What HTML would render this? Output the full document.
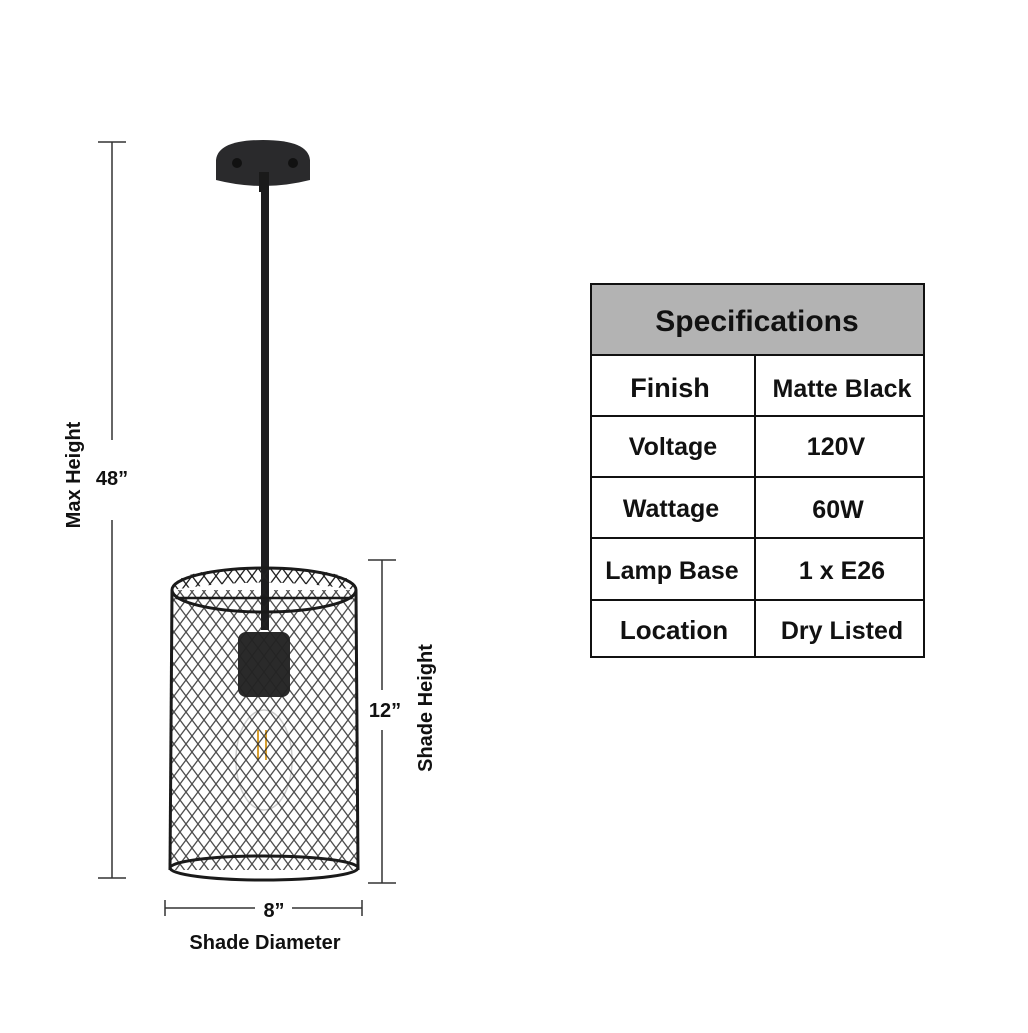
<!DOCTYPE html>
<html><head><style>
body{margin:0;background:#fff;width:1028px;height:1028px;overflow:hidden;font-family:"Liberation Sans",sans-serif}
</style></head><body>
<svg width="1028" height="1028" viewBox="0 0 1028 1028" xmlns="http://www.w3.org/2000/svg">
<defs>
<pattern id="mesh" width="12" height="16" patternUnits="userSpaceOnUse">
<path d="M0 0L12 16M12 0L0 16" stroke="#222" stroke-width="1.3"/>
</pattern>
<clipPath id="cage"><path d="M172 590 L356 590 L358 870 L170 870 Z"/></clipPath>
</defs>
<g stroke="#333" stroke-width="1.5" fill="none">
<line x1="112" y1="142" x2="112" y2="440"/><line x1="112" y1="520" x2="112" y2="878"/>
<line x1="98" y1="142" x2="126" y2="142"/><line x1="98" y1="878" x2="126" y2="878"/>
<line x1="382" y1="560" x2="382" y2="690"/><line x1="382" y1="730" x2="382" y2="883"/>
<line x1="368" y1="560" x2="396" y2="560"/><line x1="368" y1="883" x2="396" y2="883"/>
<line x1="165" y1="908" x2="255" y2="908"/><line x1="292" y1="908" x2="362" y2="908"/>
<line x1="165" y1="900" x2="165" y2="916"/><line x1="362" y1="900" x2="362" y2="916"/>
</g>
<g font-weight="bold" font-size="20" fill="#111" text-anchor="middle">
<text x="112" y="485">48”</text>
<text x="385" y="717">12”</text>
<text x="274" y="917">8”</text>
<text x="265" y="949">Shade Diameter</text>
<text transform="translate(80,475) rotate(-90)">Max Height</text>
<text transform="translate(432,708) rotate(-90)">Shade Height</text>
</g>
<path d="M216 160 Q218 140 263 140 Q308 140 310 160 L310 180 Q263 192 216 180 Z" fill="#2a2a2c"/>
<circle cx="237" cy="163" r="5" fill="#111"/><circle cx="293" cy="163" r="5" fill="#111"/>
<rect x="259" y="172" width="10" height="20" fill="#1a1a1a"/>
<rect x="261" y="190" width="8" height="440" fill="#1d1d1f"/>
<rect x="238" y="632" width="52" height="65" rx="8" fill="#2a2a2a"/>
<ellipse cx="264" cy="760" rx="28" ry="50" fill="none" stroke="#ccc" stroke-width="1.5"/>
<path d="M258 730 v30 M266 730 v30" stroke="#d9a030" stroke-width="2"/>
<rect x="160" y="560" width="210" height="330" fill="url(#mesh)" clip-path="url(#cage)" opacity="0.8"/>
<path d="M172 590 Q172 568 264 568 Q356 568 356 590 Q264 575 172 590Z" fill="url(#mesh)"/>
<ellipse cx="264" cy="590" rx="92" ry="22" fill="none" stroke="#1a1a1a" stroke-width="3"/>
<line x1="176" y1="598" x2="352" y2="598" stroke="#1a1a1a" stroke-width="2.5"/>
<line x1="172" y1="590" x2="170" y2="870" stroke="#1a1a1a" stroke-width="3"/>
<line x1="356" y1="590" x2="358" y2="870" stroke="#1a1a1a" stroke-width="3"/>
<ellipse cx="264" cy="868" rx="94" ry="12" fill="none" stroke="#1a1a1a" stroke-width="3"/>
<rect x="591" y="284" width="333" height="71" fill="#b3b3b3"/>
<g stroke="#111" stroke-width="2" fill="none">
<rect x="591" y="284" width="333" height="373"/>
<line x1="591" y1="355" x2="924" y2="355"/>
<line x1="591" y1="416" x2="924" y2="416"/>
<line x1="591" y1="477" x2="924" y2="477"/>
<line x1="591" y1="538" x2="924" y2="538"/>
<line x1="591" y1="600" x2="924" y2="600"/>
<line x1="755" y1="355" x2="755" y2="657"/>
</g>
<g font-weight="bold" fill="#111" text-anchor="middle">
<text x="757" y="331" font-size="30">Specifications</text>
<text x="670" y="397" font-size="27">Finish</text>
<text x="842" y="397" font-size="25">Matte Black</text>
<text x="673" y="455" font-size="25">Voltage</text>
<text x="836" y="455" font-size="25">120V</text>
<text x="671" y="517" font-size="25">Wattage</text>
<text x="838" y="518" font-size="25">60W</text>
<text x="672" y="579" font-size="25">Lamp Base</text>
<text x="842" y="579" font-size="25">1 x E26</text>
<text x="674" y="639" font-size="26">Location</text>
<text x="842" y="639" font-size="25">Dry Listed</text>
</g>
</svg>
</body></html>
